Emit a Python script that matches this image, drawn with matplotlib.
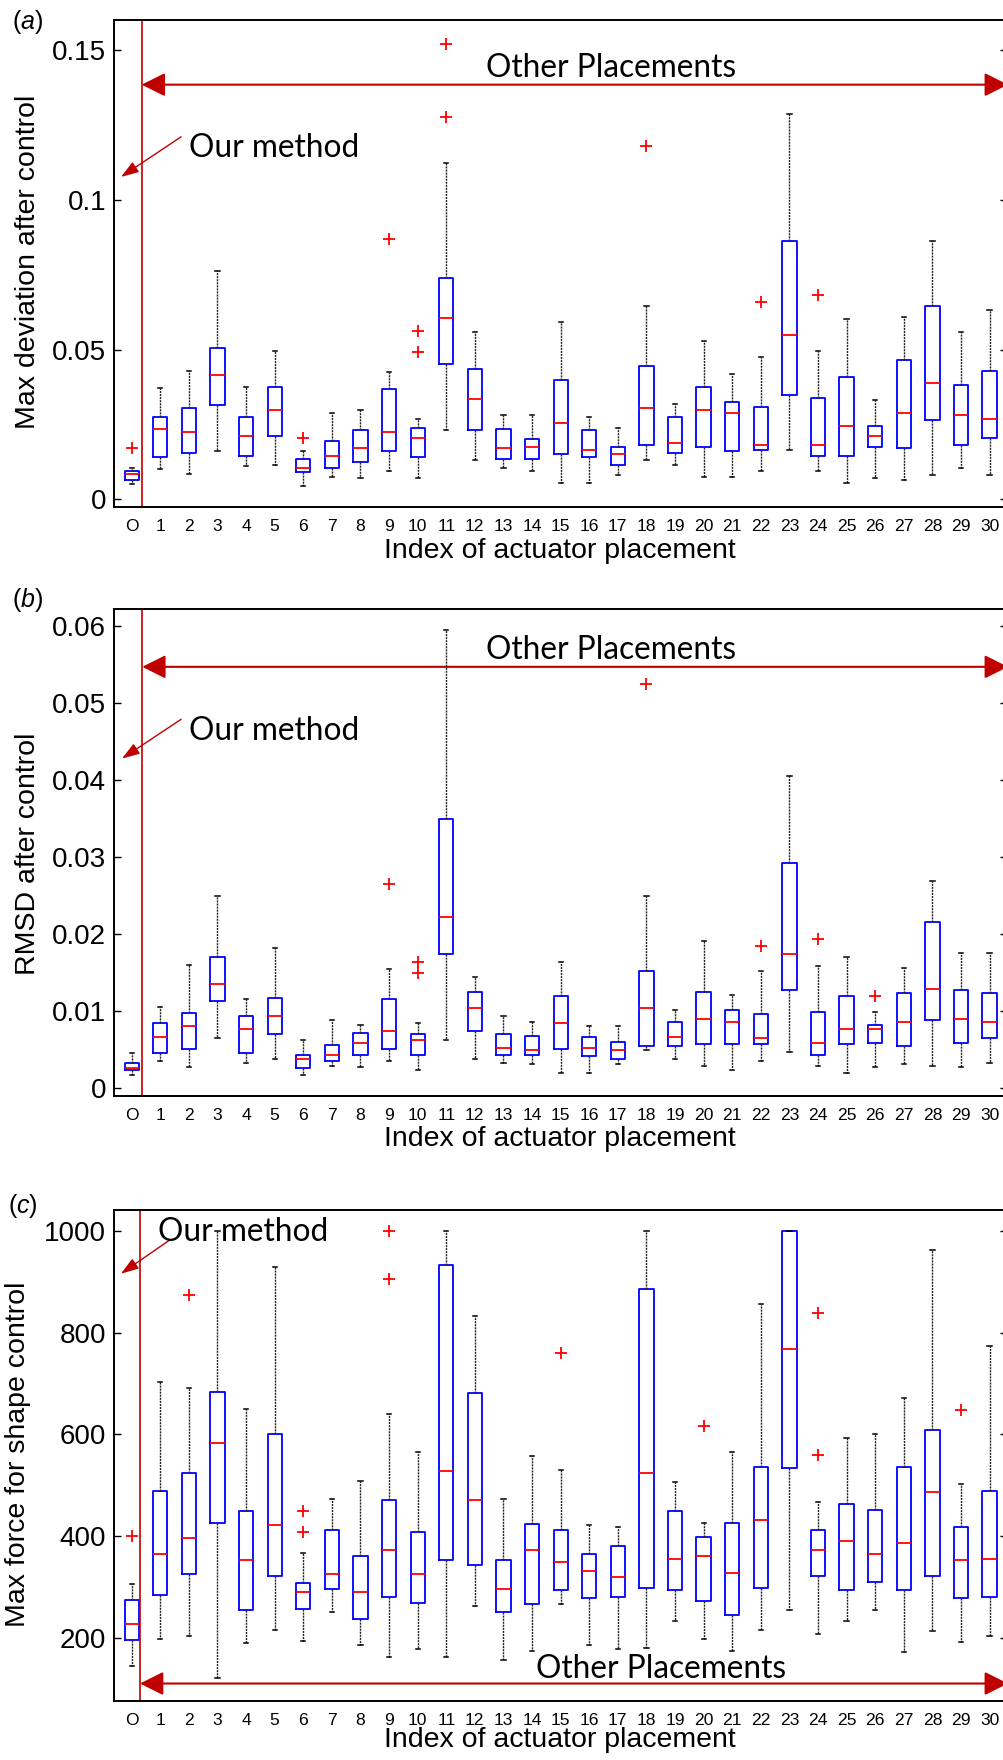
import matplotlib.pyplot as plt
from matplotlib.patches import FancyArrowPatch

plt.rcParams['font.family'] = ['Liberation Sans', 'DejaVu Sans']
plt.rcParams['mathtext.fontset'] = 'custom'
plt.rcParams['mathtext.it'] = 'Liberation Sans:italic'
plt.rcParams['mathtext.rm'] = 'Liberation Sans'

W, H = 1004, 1760
DARKRED = '#C00000'

x_labels = ['O'] + [str(i) for i in range(1, 31)]

# (a) max deviation after control
a_lo = [.005, .0101, .0085, .016, .0111, .0114, .0045, .0075, .007, .0095, .007,
        .023, .013, .0105, .0095, .0055, .0055, .008, .013, .0114, .0075,
        .0075, .0095, .0164, .0095, .0055, .007, .0065, .008, .0105, .008]
a_q1 = [.0065, .014, .0155, .0314, .0144, .021, .009, .0105, .0125, .016, .014,
        .0453, .023, .0134, .0134, .015, .014, .0114, .018, .0155, .0175,
        .016, .0164, .0349, .0144, .0144, .0175, .017, .0264, .018, .0205]
a_med = [.0083, .0236, .0224, .0414, .021, .0299, .0105, .0144, .017, .0224, .0205,
         .0605, .0334, .017, .0175, .0255, .0164, .015, .0305, .0189, .0299,
         .0289, .018, .0549, .018, .0244, .021, .0289, .0389, .028, .0269]
a_q3 = [.0093, .0275, .0305, .0505, .0275, .0375, .0134, .0194, .023, .0369, .0239,
        .0738, .0434, .0234, .02, .0399, .023, .0175, .0444, .0275, .0375,
        .0325, .0309, .0863, .0339, .0409, .0244, .0464, .0644, .038, .0429]
a_hi = [.0105, .037, .0429, .0763, .0375, .0494, .016, .0289, .0299, .0424, .0269,
        .1122, .0558, .028, .028, .0593, .0275, .0239, .0644, .0319, .0528,
        .0419, .0475, .1286, .0494, .0603, .033, .0608, .0863, .0558, .0633]
a_fliers = [[.017], [], [], [], [], [], [.0205], [], [], [.0868], [.0563, .0492],
            [.1521, .1276], [], [], [], [], [], [], [.118], [], [],
            [], [.0658], [], [.0683], [], [], [], [], [], []]

# (b) RMSD after control
b_lo = [.0017, .0035, .0027, .0065, .0033, .0037, .0017, .0029, .0027, .0035, .0023,
        .0062, .0037, .0033, .0031, .002, .002, .0031, .0049, .0037, .0029,
        .0023, .0035, .0047, .0029, .002, .0027, .0031, .0029, .0027, .0033]
b_q1 = [.0023, .0046, .0051, .0113, .0045, .007, .0026, .0035, .0043, .0051, .0043,
        .0174, .0074, .0043, .0043, .0051, .0041, .0037, .0054, .0054, .0057,
        .0057, .0057, .0127, .0043, .0057, .0059, .0054, .0088, .0059, .0065]
b_med = [.0026, .0066, .008, .0135, .0076, .0093, .0038, .0043, .0059, .0074, .0062,
         .0222, .0104, .0052, .0049, .0084, .0052, .0049, .0104, .0066, .009,
         .0086, .0065, .0174, .0059, .0076, .0076, .0086, .0129, .009, .0086]
b_q3 = [.0033, .0085, .0098, .017, .0094, .0117, .0043, .0056, .0072, .0115, .007,
        .0349, .0125, .007, .0068, .0119, .0066, .006, .0152, .0086, .0125,
        .0101, .0096, .0293, .0099, .0119, .0082, .0123, .0216, .0127, .0123]
b_hi = [.0046, .0105, .016, .0249, .0115, .0182, .0062, .0088, .0082, .0154, .0084,
        .0595, .0144, .0093, .0086, .0164, .008, .008, .0249, .0101, .0191,
        .0121, .0152, .0406, .0158, .017, .0099, .0156, .0269, .0176, .0176]
b_fliers = [[], [], [], [], [], [], [], [], [], [.0265], [.0164, .015],
            [], [], [], [], [], [], [], [.0525], [], [],
            [], [.0185], [], [.0193], [], [.0119], [], [], [], []]

# (c) max force for shape control
c_lo = [144, 198, 204, 121, 189, 216, 194, 251, 186, 162, 177,
        162, 263, 156, 174, 266, 186, 177, 180, 233, 198,
        174, 216, 254, 207, 233, 254, 171, 213, 192, 204]
c_q1 = [195, 284, 325, 426, 254, 322, 257, 295, 236, 281, 269,
        352, 343, 251, 266, 293, 278, 281, 298, 293, 272,
        245, 298, 533, 322, 293, 310, 293, 322, 278, 281]
c_med = [227, 364, 396, 583, 352, 421, 290, 325, 290, 372, 325,
         527, 470, 295, 372, 349, 331, 319, 524, 355, 361,
         328, 432, 768, 372, 390, 364, 387, 486, 352, 355]
c_q3 = [275, 489, 524, 684, 449, 600, 307, 411, 361, 470, 408,
        933, 681, 352, 423, 412, 364, 381, 886, 449, 399,
        426, 536, 999, 411, 462, 452, 536, 608, 417, 489]
c_hi = [305, 702, 691, 999, 649, 930, 367, 473, 509, 640, 566,
        999, 833, 473, 557, 530, 421, 418, 999, 506, 426,
        566, 856, 999, 467, 592, 601, 672, 963, 503, 774]
c_fliers = [[400], [], [874], [], [], [], [449, 408], [], [], [999, 906], [],
            [], [], [], [], [759], [], [], [], [], [616],
            [], [], [], [839, 560], [], [], [], [], [648], []]


def fx(px):
    return px / W


def fy(py):
    return 1 - py / H


def draw_panel(ax, lo, q1, med, q3, hi, fliers, ylim, yticks, ytick_labels, vline_x):
    stats = [dict(whislo=lo[i], q1=q1[i], med=med[i], q3=q3[i], whishi=hi[i], fliers=fliers[i])
             for i in range(len(med))]
    ax.bxp(stats, positions=range(len(med)), widths=0.5, capwidths=0.15, manage_ticks=False,
           boxprops=dict(color='#0000FF', lw=1.3),
           medianprops=dict(color='#FF0000', lw=1.3),
           whiskerprops=dict(color='#222222', lw=1.0, linestyle=(0, (1.5, 0.7))),
           capprops=dict(color='black', lw=1.1),
           flierprops=dict(marker='+', markeredgecolor='#FF0000', markersize=9,
                           markeredgewidth=1.3, linestyle='none'))
    ax.set_xlim(-0.6, 30.6)
    ax.set_ylim(*ylim)
    ax.set_xticks(range(31), x_labels, fontsize=12.6)
    ax.set_yticks(yticks, ytick_labels, fontsize=20)
    ax.tick_params(axis='x', length=0, pad=8.8)
    ax.tick_params(axis='y', direction='in', left=True, right=True, length=4.8, width=1, pad=6.1)
    for s in ax.spines.values():
        s.set_linewidth(1.4)
    ax.axvline(vline_x, color=DARKRED, lw=1.2)


def big_arrow(ax, x0, x1, y):
    ar = FancyArrowPatch((x0, y), (x1, y), arrowstyle='<|-|>,head_length=14.4,head_width=7.2',
                         mutation_scale=1, lw=1.5, color=DARKRED, shrinkA=0, shrinkB=0,
                         clip_on=False)
    ax.add_patch(ar)


def small_arrow(ax, start, end):
    ar = FancyArrowPatch(start, end, arrowstyle='-|>,head_length=10.8,head_width=3.6',
                         mutation_scale=1, lw=1.0, color=DARKRED, shrinkA=0, shrinkB=0,
                         clip_on=False)
    ax.add_patch(ar)


fig = plt.figure(figsize=(W / 100, H / 100), dpi=100)
note_font = dict(family=['Lato', 'DejaVu Sans'], fontsize=22.8, color='black')

# panel (a)
ax_a = fig.add_axes([fx(114.5), fy(507.1), 892.3 / W, 486.7 / H])
draw_panel(ax_a, a_lo, a_q1, a_med, a_q3, a_hi, a_fliers, (-0.0026, 0.15985),
           [0, 0.05, 0.1, 0.15], ['0', '0.05', '0.1', '0.15'], 0.35)
big_arrow(ax_a, 0.35, 30.64, 0.1384)
ax_a.text(16.78, 0.14106, 'Other Placements', ha='center', va='baseline', **note_font)
ax_a.text(2.0, 0.11422, 'Our method', ha='left', va='baseline', **note_font)
small_arrow(ax_a, (1.73, 0.1210), (-0.374, 0.1076))

# panel (b)
ax_b = fig.add_axes([fx(114.5), fy(1096), 892.3 / W, 487.4 / H])
draw_panel(ax_b, b_lo, b_q1, b_med, b_q3, b_hi, b_fliers, (-0.00105, 0.06231),
           [0, 0.01, 0.02, 0.03, 0.04, 0.05, 0.06],
           ['0', '0.01', '0.02', '0.03', '0.04', '0.05', '0.06'], 0.37)
big_arrow(ax_b, 0.37, 30.64, 0.05474)
ax_b.text(16.78, 0.05572, 'Other Placements', ha='center', va='baseline', **note_font)
ax_b.text(2.0, 0.04523, 'Our method', ha='left', va='baseline', **note_font)
small_arrow(ax_b, (1.73, 0.04792), (-0.34, 0.04281))

# panel (c)
ax_c = fig.add_axes([fx(114.5), fy(1700.5), 892.3 / W, 491 / H])
draw_panel(ax_c, c_lo, c_q1, c_med, c_q3, c_hi, c_fliers, (76.5, 1042.1),
           [200, 400, 600, 800, 1000], ['200', '400', '600', '800', '1000'], 0.29)
big_arrow(ax_c, 0.29, 30.64, 109.9)
ax_c.text(18.5, 120.7, 'Other Placements', ha='center', va='baseline', **note_font)
ax_c.text(0.92, 979.2, 'Our method', ha='left', va='baseline', **note_font)
small_arrow(ax_c, (1.34, 982.5), (-0.374, 915.8))

# axis labels and panel letters
ylabels = [('Max deviation after control', 27.6, 262.3),
           ('RMSD after control', 27.6, 854),
           ('Max force for shape control', 17.6, 1454)]
for txt, x, y in ylabels:
    fig.text(fx(x), fy(y), txt, rotation=90, ha='center', va='center', fontsize=20.5)

for y in [558, 1146, 1747]:
    fig.text(fx(559.5), fy(y), 'Index of actuator placement', ha='center', va='baseline',
             fontsize=20.5)

for letter, x, y in [('a', 11.7, 29), ('b', 11.7, 606.5), ('c', 8.3, 1213.5)]:
    fig.text(fx(x), fy(y), '($\\mathit{%s}$)' % letter, ha='left', va='baseline', fontsize=18)

fig.savefig('out.png', dpi=100)
